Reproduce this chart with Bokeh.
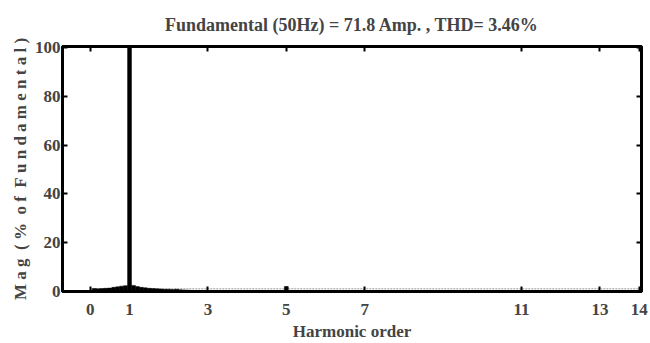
from bokeh.plotting import figure
from bokeh.models import LinearAxis, FixedTicker, Range1d, ColumnDataSource
from bokeh.embed import file_html
from bokeh.resources import INLINE

# Harmonic spectrum (% of fundamental), interharmonic resolution 0.1
orders = [0.1, 0.2, 0.3, 0.4, 0.5, 0.6, 0.7, 0.8, 0.9, 1.0,
          1.1, 1.2, 1.3, 1.4, 1.5, 1.6, 1.7, 1.8, 1.9, 2.0,
          2.1, 2.2, 2.3, 2.4, 2.5, 5.0]
mags = [1.2, 1.1, 1.2, 1.3, 1.4, 1.7, 1.9, 2.2, 2.4, 100.0,
        2.5, 2.0, 1.7, 1.5, 1.3, 1.2, 1.1, 1.0, 0.9, 0.9,
        0.8, 0.9, 0.7, 0.6, 0.5, 2.0]
floor_orders = [0.0, 14.0]
floor_level = [1.1, 1.1]
x_ticks = [0, 1, 3, 5, 7, 11, 13, 14]
y_ticks = [0, 20, 40, 60, 80, 100]
title_text = "Fundamental (50Hz) = 71.8 Amp. , THD= 3.46%"

FONT = "Liberation Serif"
NB = "\u00a0"
ylabel = NB.join(["M", "a", "g", NB + "(", "%", NB + "o", "f", NB + "F", "u", "n", "d", "a", "m", "e", "n", "t", "a", "l", ")"])

p = figure(width=650, height=343, output_backend="svg", toolbar_location=None,
           x_range=Range1d(-0.71, 14.06), y_range=Range1d(0, 100.4),
           min_border_left=62, min_border_right=9, min_border_top=45, min_border_bottom=51,
           x_axis_location=None, y_axis_location=None)
p.title.text = title_text
p.title.align = "center"
p.title.text_font = FONT
p.title.text_font_size = "18px"
p.title.text_font_style = "bold"
p.title.standoff = 24
p.grid.visible = False
p.outline_line_color = "black"
p.outline_line_width = 3
p.background_fill_color = "white"
p.border_fill_color = "white"

p.line(floor_orders, floor_level, line_color="#999999", line_dash="2 1", line_width=1)
src = ColumnDataSource(dict(x=orders, top=mags))
p.vbar(x="x", top="top", width=0.1, source=src, fill_color="black", line_color="black", line_width=0.5)

def style(ax, labels=True):
    ax.axis_line_width = 3
    ax.axis_line_color = "black"
    ax.major_tick_in = 5
    ax.major_tick_out = 0
    ax.major_tick_line_width = 2
    ax.minor_tick_line_color = None
    ax.major_label_text_font = FONT
    ax.major_label_text_font_style = "bold"
    ax.major_label_text_font_size = "17px"
    ax.axis_label_text_font = FONT
    ax.axis_label_text_font_style = "bold"
    ax.axis_label_text_font_size = "17px"
    if not labels:
        ax.major_label_text_color = None

xb = LinearAxis(ticker=FixedTicker(ticks=x_ticks), axis_label="Harmonic order")
style(xb)
xb.major_label_standoff = 12
xb.axis_label_standoff = 4
p.add_layout(xb, "below")

xt = LinearAxis(ticker=FixedTicker(ticks=x_ticks))
style(xt, labels=False)
p.add_layout(xt, "above")

yl = LinearAxis(ticker=FixedTicker(ticks=y_ticks), axis_label=ylabel)
style(yl)
yl.major_label_standoff = 2
yl.axis_label_standoff = 2
yl.axis_label_text_font_size = "17px"
p.add_layout(yl, "left")

yr = LinearAxis(ticker=FixedTicker(ticks=y_ticks))
style(yr, labels=False)
p.add_layout(yr, "right")

open("out.html", "w").write(file_html(p, INLINE))
